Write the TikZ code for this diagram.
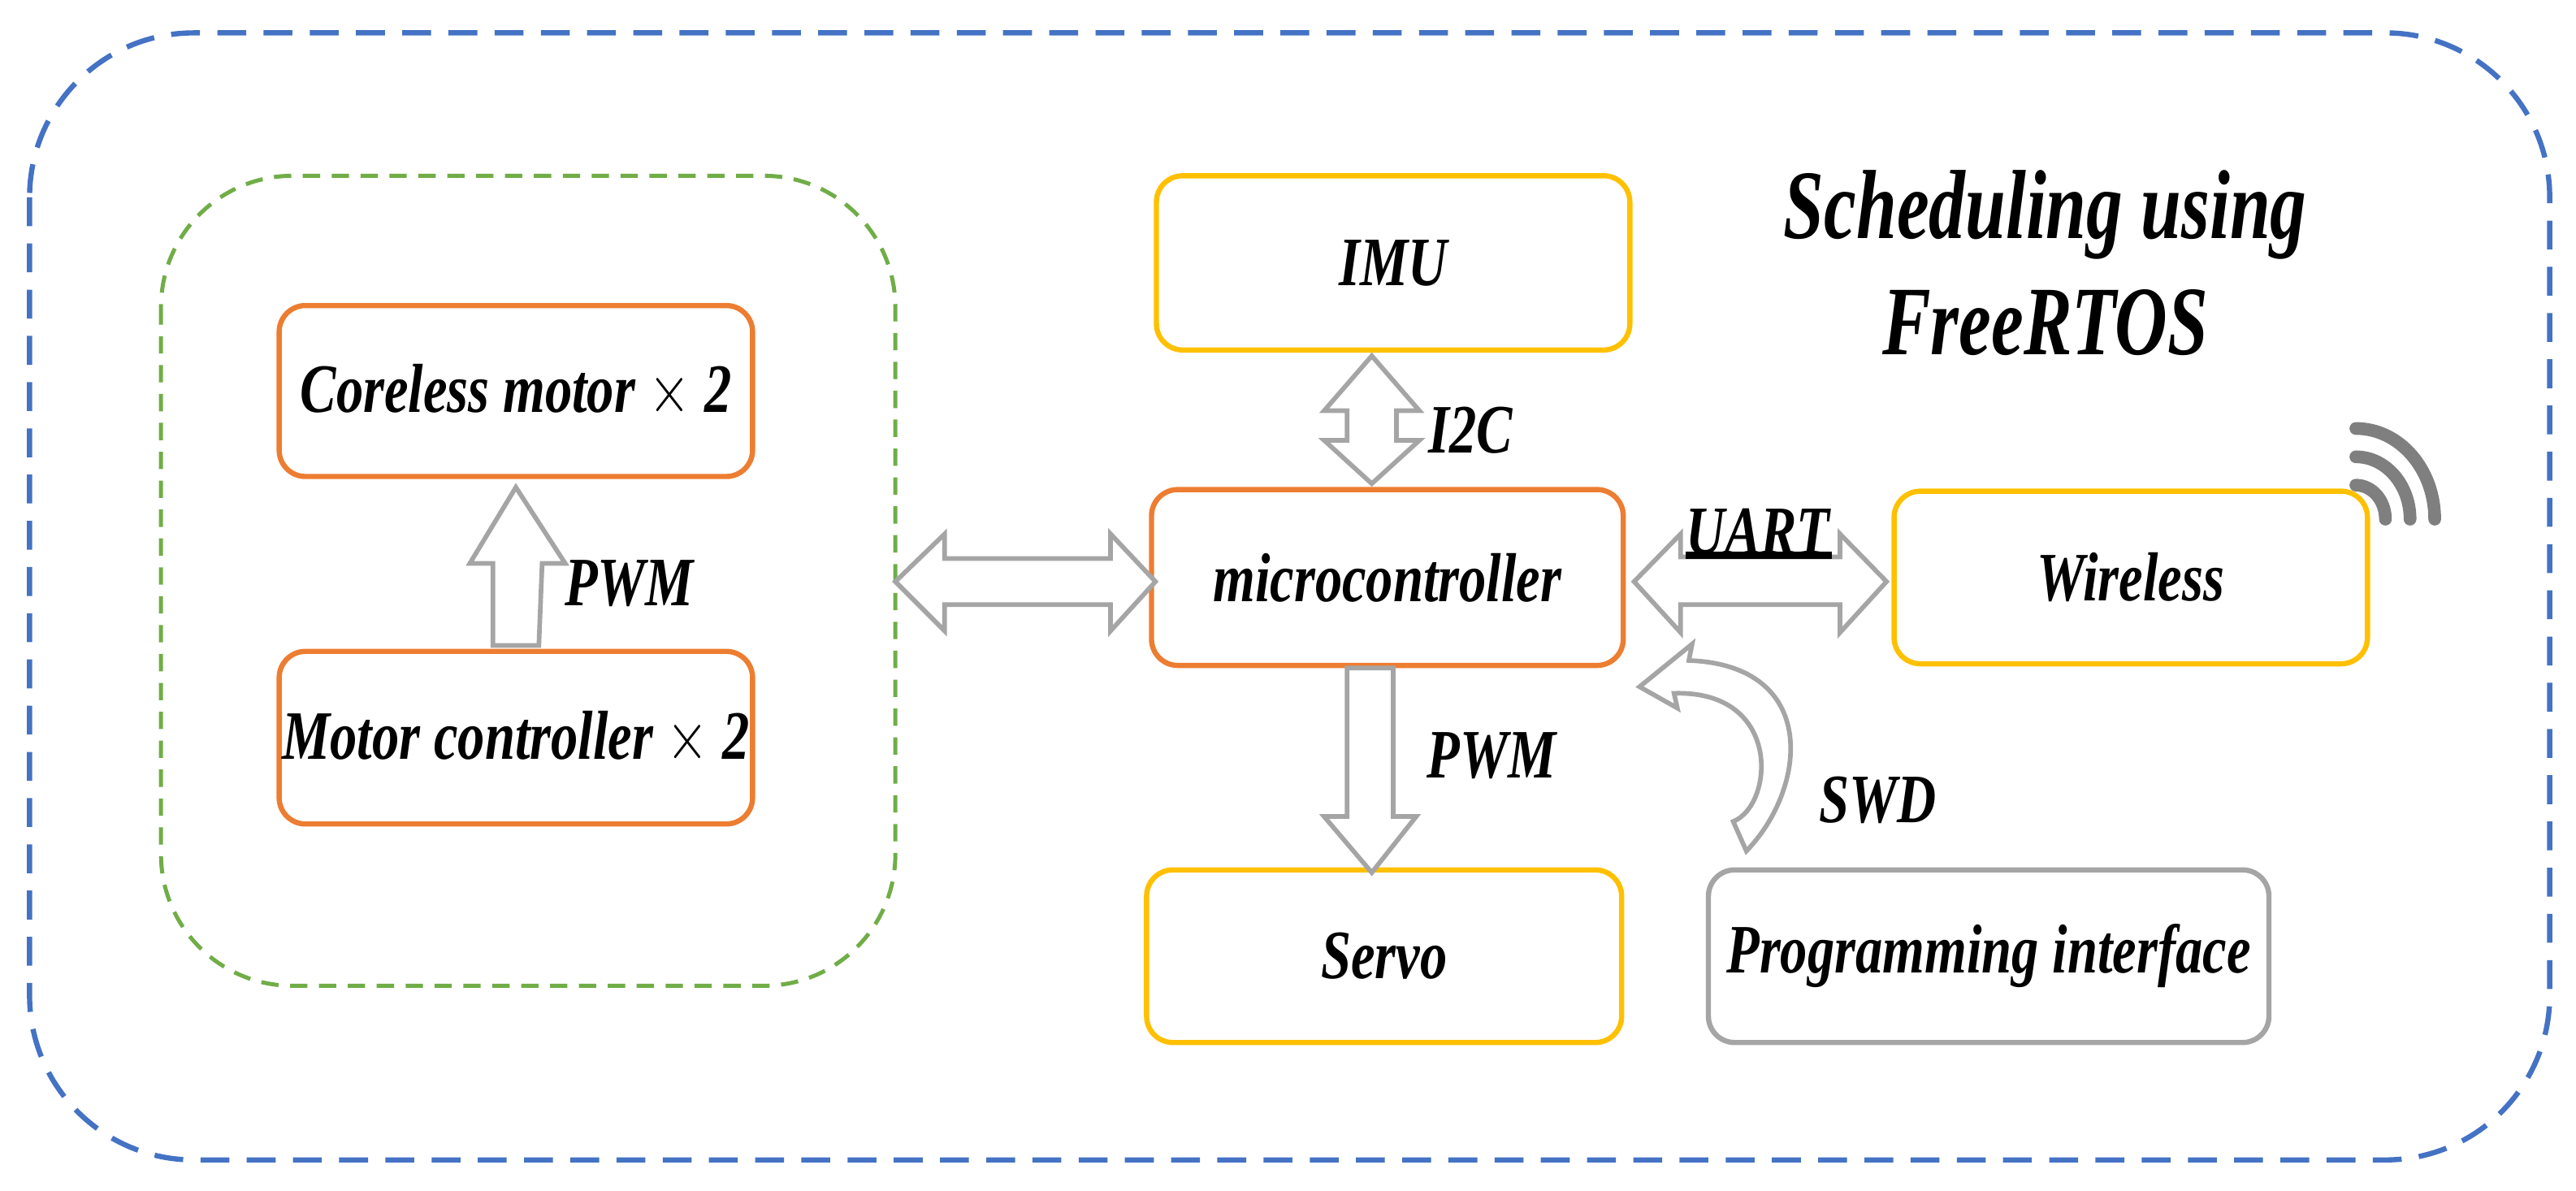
\documentclass[tikz,border=0pt]{standalone}
\usepackage{fontspec}
\setmainfont{Liberation Serif}
\usetikzlibrary{calc}
\definecolor{cOr}{HTML}{ED7D31}
\definecolor{cYe}{HTML}{FFC000}
\definecolor{cGr}{HTML}{A5A5A5}
\definecolor{cBl}{HTML}{4472C4}
\definecolor{cGn}{HTML}{70AD47}
\definecolor{cWi}{HTML}{7F7F7F}
\newcommand\sqz[1]{\scalebox{0.78}[1]{#1}}
\tikzset{
 box/.style={draw=#1,line width=0.9pt,rounded corners=0.16cm,minimum width=2.88cm,minimum height=1.05cm,inner sep=0pt,font=\fontsize{12}{14}\selectfont\bfseries\itshape},
 lbl/.style={inner sep=0pt,font=\fontsize{12}{14}\selectfont\bfseries\itshape},
 barrow/.style={draw=cGr,fill=white,line width=0.8pt,line join=miter},
}
\begin{document}
\begin{tikzpicture}[x=0.01cm,y=-0.01cm]
\useasboundingbox (0,0) rectangle (1568,724.5);
\draw[cBl,dashed,line width=0.9pt,dash pattern=on 5pt off 3pt,rounded corners=1cm] (18,20) rectangle (1552,706);
\draw[cGn,dashed,line width=0.7pt,dash pattern=on 3pt off 2pt,rounded corners=0.8cm] (98,107) rectangle (545,600);
\node[box=cOr,minimum width=2.88cm,minimum height=1.04cm] (cm) at (314,238) {\sqz{Coreless motor $\times$ \textbf{2}}};
\node[box=cOr] (mc) at (314,449) {\sqz{Motor controller $\times$ \textbf{2}}};
\node[box=cYe,minimum height=1.06cm] (imu) at (848,160) {\sqz{IMU}};
\node[box=cOr,minimum width=2.87cm,minimum height=1.07cm] (mcu) at (844.5,351.5) {\sqz{microcontroller}};
\node[box=cYe] (wl) at (1297,351.5) {\sqz{Wireless}};
\node[box=cYe,minimum width=2.89cm] (sv) at (842.5,582) {\sqz{Servo}};
\node[box=cGr,minimum width=3.41cm] (pi) at (1210.5,582) {\sqz{Programming interface}};
% PWM up arrow
\draw[barrow] ($(mc.north)+(-14,-2)$) -- ++(0,-50) -- ++(-14,0) -- ($(cm.south)+(0,5)$) -- ($(mc.north)+(30,-52)$) -- ++(-14,0) -- ($(mc.north)+(14,-2)$) -- cycle;
\node[lbl] (p1) at (383,355) {\sqz{PWM}};
% left double arrow
\draw[barrow] (545,354) -- (575,325) -- (575,340) -- (676,340) -- (676,325) -- ($(mcu.west)+(4,2.5)$) -- (676,384) -- (676,368) -- (575,368) -- (575,384) -- cycle;
% I2C
\draw[barrow] ($(imu.south)+(-13,2)$) -- (864,250) -- (850,250) -- (850,268) -- (864,268) -- ($(mcu.north)+(-9.5,-2)$) -- (806,268) -- (820,268) -- (820,250) -- (806,250) -- cycle;
\node[lbl] (i2c) at (895,262) {\sqz{I2C}};
% UART
\draw[barrow] ($(mcu.east)+(5,2.5)$) -- (1023,325) -- (1023,339) -- (1120,339) -- (1120,325) -- ($(wl.west)+(-3,2.5)$) -- (1120,385) -- (1120,368) -- (1023,368) -- (1023,385) -- cycle;
\node[lbl] (uart) at (1070,324) {\sqz{UART}};
\draw[line width=1.2pt] (1026,338) -- (1115,338);
% PWM down
\draw[barrow] ($(mcu.south)+(-24.5,0)$) -- (820,497) -- (806,497) -- ($(sv.south)+(-7.5,-105)$) -- (862,497) -- (848,497) -- ($(mcu.south)+(3.5,0)$) -- cycle;
\node[lbl] (p2) at (908,460) {\sqz{PWM}};
% SWD curved arrow
\draw[barrow] (1063,518) .. controls (1100,480) and (1108,405) .. (1028,402) -- (1030,392) -- (998,418) -- (1021,431) -- (1019,422) .. controls (1085,420) and (1080,490) .. (1055,500) -- cycle;
\node[lbl] (swd) at (1143,487) {\sqz{SWD}};
% title
\node[inner sep=0pt,align=center,font=\fontsize{17}{20}\selectfont\bfseries\itshape] (t) at (1245,160) {\scalebox{0.74}[1]{Scheduling using}\\\scalebox{0.74}[1]{FreeRTOS}};
% wifi
\coordinate (wc) at (1434,316);
\foreach \r in {18,33,48}
  \draw[cWi,line width=2.2pt,line cap=round] ($(wc)+(0,-1.15*\r)$) arc[start angle=-90,end angle=0,x radius=\r,y radius=1.15*\r];
\end{tikzpicture}
\end{document}
